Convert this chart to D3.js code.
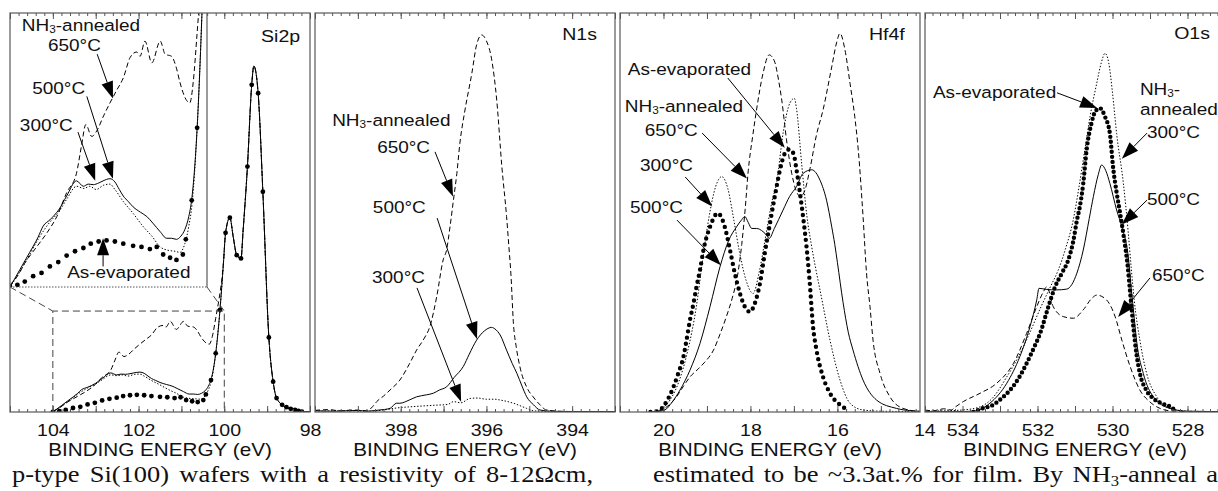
<!DOCTYPE html>
<html>
<head>
<meta charset="utf-8">
<script src="https://cdn.jsdelivr.net/npm/d3@7"></script>
<style>
  body { margin: 0; background: #fff; }
  svg { display: block; }
  text { font-family: "Liberation Sans", Arial, sans-serif; fill: #111; }
  .cap { font-family: "Liberation Serif", "Times New Roman", serif; }
</style>
</head>
<body>
<svg id="chart" width="1218" height="491"></svg>
<script>
// ---------- spectra: [binding energy (eV), intensity (a.u., 0-100 full scale)] ----------

// Si2p: substrate peak shared by all films
const siSubstrate = [[100.02,37.3],[99.97,44.9],[99.87,48.7],[99.79,43.8],[99.71,39.3],[99.61,38.5],[99.56,45.6],[99.46,61.5],[99.36,82.0],[99.31,86.7],[99.21,79.9],[99.10,55.2],[98.96,18.7],[98.86,7.6],[98.78,3.5],[98.58,1.3],[98.35,0.5],[98.19,0.1],[98.0,0.1]];
const si650 = [[104.0,0.2],[103.85,1.0],[103.7,2.2],[103.46,3.7],[103.25,5.0],[103.05,6.5],[102.85,8.7],[102.65,10.5],[102.55,13.0],[102.46,15.0],[102.34,13.9],[102.24,14.4],[102.1,15.8],[101.97,17.0],[101.83,18.2],[101.7,19.3],[101.56,21.2],[101.43,21.7],[101.36,21.3],[101.26,22.7],[101.12,20.7],[100.95,22.7],[100.85,21.5],[100.72,21.3],[100.62,20.2],[100.55,18.9],[100.41,17.2],[100.35,17.0],[100.28,18.9],[100.2,23.5],[100.12,28.5],[100.06,33.0]];
const si500 = [[104.0,0.0],[103.8,1.6],[103.6,3.2],[103.43,4.6],[103.33,5.6],[103.19,6.2],[103.0,7.2],[102.85,8.4],[102.65,9.8],[102.51,9.3],[102.41,9.5],[102.31,9.45],[102.2,9.6],[102.11,9.8],[101.97,10.0],[101.87,9.7],[101.78,9.0],[101.7,8.4],[101.6,7.9],[101.5,7.4],[101.35,6.9],[101.22,6.5],[101.1,5.9],[100.95,5.1],[100.82,4.5],[100.72,4.5],[100.62,4.4],[100.53,4.7],[100.45,5.3],[100.37,6.5],[100.31,8.1],[100.2,14.7],[100.1,25.6]];
const si300 = [[104.0,0.0],[103.8,1.4],[103.6,3.0],[103.43,4.4],[103.19,6.0],[103.0,7.0],[102.85,8.1],[102.65,9.3],[102.5,9.1],[102.38,9.3],[102.25,9.0],[102.1,9.4],[101.97,9.5],[101.87,9.0],[101.7,7.9],[101.5,6.8],[101.3,5.6],[101.12,4.7],[100.95,3.7],[100.8,3.4],[100.65,3.3],[100.55,3.2],[100.45,4.0],[100.37,5.6],[100.3,7.8],[100.2,14.7],[100.1,25.6]];
const siAsEvap = [[104.0,0.0],[103.85,0.2],[103.7,0.5],[103.53,1.0],[103.36,1.3],[103.19,1.9],[103.02,2.3],[102.85,2.9],[102.68,3.3],[102.51,3.6],[102.36,4.0],[102.2,4.2],[102.04,4.3],[101.87,4.2],[101.7,4.0],[101.5,3.8],[101.33,3.7],[101.16,3.5],[101.02,3.7],[100.89,3.0],[100.75,2.7],[100.62,2.5],[100.49,3.0],[100.43,4.4],[100.31,8.0],[100.2,14.7],[100.1,25.6],[99.97,44.9],[99.87,48.7],[99.71,39.3],[99.61,38.5],[99.46,61.5],[99.36,82.0],[99.21,79.9],[99.10,55.2],[98.96,18.7],[98.86,7.6],[98.78,3.5],[98.65,1.8],[98.55,1.2],[98.45,0.8],[98.35,0.5],[98.27,0.3],[98.19,0.1]];

// N1s
const n650 = [[400.0,0.4],[399.7,0.6],[399.4,0.3],[399.1,0.5],[398.79,0.3],[398.65,1.4],[398.56,2.6],[398.4,4.0],[398.25,5.5],[398.02,8.0],[397.8,12.0],[397.63,15.5],[397.45,18.5],[397.32,21.4],[397.16,28.9],[397.01,38.1],[396.93,40.6],[396.85,46.4],[396.77,53.1],[396.69,59.8],[396.62,67.3],[396.5,75.7],[396.34,84.9],[396.23,92.0],[396.11,94.5],[396.0,93.0],[395.88,88.5],[395.76,78.2],[395.64,61.5],[395.53,49.0],[395.47,40.6],[395.43,34.8],[395.37,22.2],[395.3,16.0],[395.22,11.4],[395.05,6.0],[394.91,3.8],[394.75,1.8],[394.6,0.5],[394.3,0.2],[393.8,0.1],[393.0,0.1]];
const n500 = [[400.0,0.3],[399.5,0.2],[399.0,0.4],[398.79,0.2],[398.5,0.5],[398.25,0.9],[398.1,2.2],[398.02,2.2],[397.8,3.0],[397.63,3.8],[397.4,4.3],[397.24,4.7],[397.1,5.5],[396.93,6.3],[396.75,8.7],[396.54,11.4],[396.4,14.5],[396.23,18.0],[396.05,20.3],[395.88,21.2],[395.8,20.8],[395.68,19.3],[395.53,15.5],[395.4,12.2],[395.29,9.7],[395.17,6.5],[395.06,3.8],[394.9,1.8],[394.75,0.5],[394.5,0.2],[394.0,0.1],[393.0,0.1]];
const n300 = [[400.0,0.2],[399.2,0.3],[398.8,0.2],[398.4,0.5],[398.1,1.0],[397.78,1.3],[397.5,1.5],[397.2,1.7],[396.9,1.9],[396.77,2.6],[396.6,2.3],[396.38,3.4],[396.2,3.5],[396.0,3.2],[395.8,3.2],[395.68,3.0],[395.37,2.2],[395.06,0.9],[394.9,0.3],[394.5,0.1],[393.0,0.1]];

// Hf4f
const h650 = [[20.3,0.0],[20.1,0.3],[19.9,1.5],[19.7,3.8],[19.55,6.3],[19.39,8.8],[19.2,10.8],[19.05,12.5],[18.85,15.5],[18.7,19.5],[18.55,24.0],[18.42,28.5],[18.3,34.0],[18.2,42.0],[18.12,51.0],[18.05,60.5],[17.95,69.0],[17.86,75.7],[17.71,84.9],[17.57,89.5],[17.45,88.0],[17.35,83.0],[17.28,78.2],[17.17,68.2],[17.05,59.8],[16.95,55.5],[16.85,54.0],[16.75,55.5],[16.63,61.0],[16.48,69.5],[16.33,75.7],[16.13,86.5],[16.02,92.5],[15.94,94.9],[15.83,91.0],[15.71,82.4],[15.6,74.0],[15.52,65.7],[15.41,49.0],[15.33,34.8],[15.25,26.4],[15.18,18.0],[15.02,9.7],[14.79,3.8],[14.49,0.9],[14.1,0.1]];
const h500 = [[20.2,0.0],[19.97,0.5],[19.8,2.5],[19.62,5.5],[19.39,10.5],[19.16,17.2],[18.93,26.4],[18.7,36.4],[18.5,43.0],[18.32,46.4],[18.2,48.2],[18.13,49.0],[18.05,47.5],[17.97,46.0],[17.86,46.0],[17.71,45.2],[17.62,44.2],[17.57,43.5],[17.45,46.0],[17.25,50.6],[17.1,54.0],[16.94,56.5],[16.79,59.8],[16.59,60.7],[16.4,58.1],[16.25,53.1],[16.13,46.4],[16.06,42.0],[16.0,37.5],[15.87,27.5],[15.75,20.0],[15.64,15.5],[15.41,8.0],[15.1,3.0],[14.64,0.9],[14.3,0.3],[14.1,0.2]];
const h300 = [[20.3,0.0],[20.05,0.8],[19.85,3.0],[19.65,7.5],[19.45,15.0],[19.25,26.0],[19.1,38.0],[18.95,49.0],[18.8,56.5],[18.66,59.0],[18.52,56.0],[18.38,48.0],[18.25,40.0],[18.1,33.0],[17.94,29.7],[17.8,35.0],[17.65,44.0],[17.5,53.0],[17.4,57.3],[17.25,69.8],[17.09,77.5],[16.99,78.6],[16.94,76.0],[16.82,62.0],[16.7,49.0],[16.6,42.0],[16.5,36.0],[16.4,30.6],[16.17,18.0],[15.94,8.0],[15.71,2.2],[15.41,0.5],[15.0,0.2],[14.1,0.1]];
const hAsEvap = [[20.3,0.0],[20.16,0.1],[20.08,0.5],[19.89,3.4],[19.77,6.3],[19.66,9.7],[19.54,13.9],[19.47,18.0],[19.39,23.1],[19.31,27.2],[19.24,31.4],[19.16,35.6],[19.08,40.6],[18.93,46.4],[18.75,49.8],[18.59,46.4],[18.47,40.6],[18.36,34.8],[18.24,29.7],[18.13,26.4],[18.01,25.1],[17.9,27.2],[17.78,32.3],[17.67,39.8],[17.55,47.3],[17.44,54.0],[17.32,60.7],[17.21,64.8],[17.11,65.8],[17.01,64.8],[16.94,60.7],[16.86,54.8],[16.79,49.0],[16.71,41.4],[16.64,33.0],[16.56,21.4],[16.48,15.5],[16.33,8.8],[16.17,4.7],[15.94,1.8],[15.75,0.5]];

// O1s
const o650 = [[535.0,0.5],[534.8,0.3],[534.5,0.8],[534.3,0.5],[534.2,1.2],[533.98,2.6],[533.53,4.7],[533.09,7.2],[532.64,12.2],[532.29,19.7],[532.02,26.4],[531.85,30.0],[531.75,31.4],[531.58,26.4],[531.31,23.9],[531.04,23.5],[530.78,25.6],[530.55,28.5],[530.42,29.3],[530.16,28.1],[529.93,23.9],[529.75,18.0],[529.53,11.4],[529.27,5.5],[529.0,2.5],[528.82,1.3],[528.47,0.3],[528.0,0.1],[527.0,0.1]];
const o500 = [[535.0,0.1],[534.2,0.1],[533.71,0.2],[533.27,2.2],[532.82,7.2],[532.47,13.9],[532.2,21.4],[532.02,28.1],[531.96,31.0],[531.75,30.7],[531.49,30.6],[531.22,30.8],[530.95,34.8],[530.78,40.6],[530.62,48.5],[530.51,54.0],[530.38,59.5],[530.29,61.9],[530.18,60.5],[530.07,57.3],[529.89,50.6],[529.75,46.4],[529.58,38.9],[529.5,31.0],[529.42,23.5],[529.36,18.0],[529.18,9.7],[528.91,3.8],[528.47,0.9],[528.0,0.2],[527.0,0.1]];
const o300 = [[535.0,0.2],[534.5,0.3],[534.0,0.5],[533.53,1.3],[533.2,3.5],[532.82,8.8],[532.5,14.0],[532.2,20.0],[531.9,26.5],[531.65,31.5],[531.45,35.5],[531.25,41.0],[531.05,48.0],[530.9,56.0],[530.75,65.0],[530.6,74.0],[530.42,82.4],[530.3,87.5],[530.2,89.9],[530.1,87.5],[530.0,80.0],[529.89,69.8],[529.71,57.3],[529.58,45.0],[529.5,36.0],[529.42,28.0],[529.27,18.0],[529.09,9.7],[528.82,3.8],[528.47,0.9],[528.0,0.2],[527.0,0.1]];
const oAsEvap = [[533.71,0.0],[533.5,0.8],[533.18,1.8],[532.95,3.5],[532.73,5.5],[532.5,8.5],[532.29,12.2],[532.1,16.0],[531.93,19.7],[531.71,26.4],[531.53,31.4],[531.35,34.8],[531.18,38.1],[531.04,43.1],[530.95,48.0],[530.87,51.5],[530.78,57.3],[530.69,65.7],[530.56,72.4],[530.45,75.5],[530.33,76.1],[530.2,74.0],[530.07,69.8],[529.98,61.0],[529.89,55.0],[529.8,50.0],[529.7,44.0],[529.6,37.0],[529.53,30.0],[529.44,21.0],[529.36,14.5],[529.27,9.7],[529.1,5.5],[528.9,3.3],[528.64,2.0],[528.4,1.0],[528.3,0.0]];

// tick labels per panel
const siTicks = [104, 102, 100, 98];
const nTicks = [398, 396, 394];
const hfTicks = [20, 18, 16, 14];
const oTicks = [534, 532, 530, 528];
const axisTitle = "BINDING ENERGY (eV)";

// ---------- layout ----------
const svg = d3.select("#chart");
const TOP = 13, BOT = 412, PW = 300;
const SX = 1.15;               // lettering is set slightly wide
const yMain = d3.scaleLinear().domain([0, 100]).range([BOT, TOP]);

const panels = [
  { title: "Si2p", left: 10,  dom: [105, 98],   ticks: siTicks, titleAt: [98.23, 92.7],
    series: [
      { d: si650.concat(siSubstrate), st: "dashed" },
      { d: si300.concat(siSubstrate), st: "dotted" },
      { d: si500.concat(siSubstrate), st: "solid" },
      { d: siAsEvap, st: "markers" } ] },
  { title: "N1s",  left: 315, dom: [400, 393],  ticks: nTicks, titleAt: [393.42, 93.2],
    series: [ { d: n650, st: "dashed" }, { d: n300, st: "dotted" }, { d: n500, st: "solid" } ] },
  { title: "Hf4f", left: 620, dom: [21, 14.1],  ticks: hfTicks, titleAt: [14.45, 93.2],
    series: [ { d: h650, st: "dashed" }, { d: h300, st: "dotted" }, { d: h500, st: "solid" }, { d: hAsEvap, st: "beads", gap: 6.3 } ] },
  { title: "O1s",  left: 925, dom: [535, 527],  ticks: oTicks, titleAt: [527.4, 93.5],
    series: [ { d: o650, st: "dashed" }, { d: o300, st: "dotted" }, { d: o500, st: "solid" }, { d: oAsEvap, st: "beads", gap: 5.0 } ] }
];

// annotation text and arrows, in data units of each panel ("inset" = Si2p magnified box)
const notes = [
  { p: 0, sc: "inset", text: "NH_3-annealed", at: [103.76, 23.6] },
  { p: 0, sc: "inset", text: "650°C", at: [103.23, 21.8], from: [102.23, 21.5], to: [101.91, 17.4] },
  { p: 0, sc: "inset", text: "500°C", at: [103.55, 17.8], from: [102.44, 17.6], to: [101.91, 10.0] },
  { p: 0, sc: "inset", text: "300°C", at: [103.80, 14.4], from: [102.62, 14.3], to: [102.27, 9.8] },
  { p: 0, sc: "inset", text: "As-evaporated", at: [102.84, 0.85], from: [102.11, 1.9], to: [102.11, 4.5] },
  { p: 1, text: "NH_3-annealed", at: [399.6, 71.7] },
  { p: 1, text: "650°C", at: [398.55, 64.9], from: [397.2, 65.2], to: [396.78, 54.0] },
  { p: 1, text: "500°C", at: [398.65, 49.9], from: [397.15, 48.6], to: [396.22, 18.3] },
  { p: 1, text: "300°C", at: [398.67, 32.3], from: [397.62, 31.1], to: [396.59, 2.6] },
  { p: 2, text: "As-evaporated", at: [20.82, 84.5], from: [18.52, 83.7], to: [17.21, 66.2] },
  { p: 2, text: "NH_3-annealed", at: [20.89, 75.2] },
  { p: 2, text: "650°C", at: [20.43, 69.2], from: [19.11, 69.9], to: [18.08, 58.5] },
  { p: 2, text: "300°C", at: [20.54, 60.4], from: [19.5, 58.9], to: [18.88, 51.5] },
  { p: 2, text: "500°C", at: [20.77, 49.9], from: [19.69, 48.1], to: [18.68, 36.8] },
  { p: 3, text: "As-evaporated", at: [534.79, 78.7], from: [531.48, 80.0], to: [530.41, 76.2] },
  { p: 3, text: "NH_3-", at: [529.27, 79.4] },
  { p: 3, text: "annealed", at: [529.27, 74.4] },
  { p: 3, text: "300°C", at: [529.08, 68.7], from: [529.08, 69.9], to: [529.75, 63.5] },
  { p: 3, text: "500°C", at: [529.08, 51.9], from: [529.08, 53.1], to: [529.75, 47.0] },
  { p: 3, text: "650°C", at: [528.95, 32.8], from: [529.0, 33.6], to: [529.85, 23.8] }
];

const styles = {
  solid:  { w: 1.0, dash: null },
  dotted: { w: 1.0, dash: "1.4 1.8" },
  dashed: { w: 1.0, dash: "5 3" }
};

function addLabel(g, str, x, y, size, anchor) {
  const t = g.append("text").attr("transform", `translate(${x},${y}) scale(${SX},1)`)
    .attr("font-size", size).attr("text-anchor", anchor || "start");
  str.split("_3").forEach((part, i) => {
    if (i > 0) t.append("tspan").attr("font-size", size * 0.62).attr("dy", 2).text("3");
    if (part) { const s = t.append("tspan").text(part); if (i > 0) s.attr("dy", -2); }
  });
  return t;
}

function drawSeries(g, s, x, y) {
  const line = d3.line().x(d => x(d[0])).y(d => y(d[1])).curve(d3.curveMonotoneX);
  if (s.st === "markers") {
    g.append("g").selectAll("circle").data(s.d).join("circle")
      .attr("cx", d => x(d[0])).attr("cy", d => y(d[1])).attr("r", 2.4).attr("fill", "#000");
  } else if (s.st === "beads") {
    g.append("path").attr("d", line(s.d)).attr("fill", "none").attr("stroke", "#000")
      .attr("stroke-width", 4.4).attr("stroke-linecap", "round")
      .attr("stroke-dasharray", `0 ${s.gap}`);
  } else {
    const st = styles[s.st];
    g.append("path").attr("d", line(s.d)).attr("fill", "none").attr("stroke", "#000")
      .attr("stroke-width", st.w).attr("stroke-dasharray", st.dash);
  }
}

function drawArrow(g, x0, y0, x1, y1) {
  const L = 17, HW = 6;
  const dx = x1 - x0, dy = y1 - y0, len = Math.hypot(dx, dy);
  const ux = dx / len, uy = dy / len;
  const bx = x1 - ux * L, by = y1 - uy * L;
  g.append("line").attr("x1", x0).attr("y1", y0).attr("x2", bx).attr("y2", by)
    .attr("stroke", "#000").attr("stroke-width", 1);
  g.append("path")
    .attr("d", `M${x1},${y1}L${bx - uy * HW},${by + ux * HW}L${bx + uy * HW},${by - ux * HW}Z`)
    .attr("fill", "#000");
}

const defs = svg.append("defs");
const scalesByPanel = [];

panels.forEach((p, i) => {
  const x = d3.scaleLinear().domain(p.dom).range([p.left, p.left + PW]);
  const g = svg.append("g");
  const clipId = "clip" + i;
  defs.append("clipPath").attr("id", clipId).append("rect")
    .attr("x", p.left).attr("y", TOP).attr("width", PW).attr("height", BOT - TOP);
  const plot = g.append("g").attr("clip-path", `url(#${clipId})`);
  p.series.forEach(s => drawSeries(plot, s, x, yMain));

  const sc = { main: { x, y: yMain } };

  // magnified view of the 104-100 eV overlayer region
  if (i === 0) {
    const boxTop = 25.3;
    const ix = d3.scaleLinear().domain([104, 100]).range([p.left, 207]);
    const iy = d3.scaleLinear().domain([0, boxTop]).range([287, TOP]);
    sc.inset = { x: ix, y: iy };
    defs.append("clipPath").attr("id", "clipInset").append("rect")
      .attr("x", p.left).attr("y", TOP).attr("width", 207 - p.left).attr("height", 287 - TOP);
    g.append("rect").attr("x", p.left).attr("y", TOP).attr("width", 207 - p.left)
      .attr("height", 287 - TOP).attr("fill", "#fff");
    const ig = g.append("g").attr("clip-path", "url(#clipInset)");
    p.series.forEach(s => drawSeries(ig, s, ix, iy));
    g.append("line").attr("x1", 207).attr("x2", 207).attr("y1", TOP).attr("y2", 287)
      .attr("stroke", "#666").attr("stroke-width", 1.3);
    g.append("line").attr("x1", p.left).attr("x2", 207).attr("y1", 287).attr("y2", 287)
      .attr("stroke", "#555").attr("stroke-width", 1.2).attr("stroke-dasharray", "1.5 1.5");
    // zoom box and connectors
    const zx0 = x(104), zx1 = x(100), zy = yMain(boxTop);
    g.append("path").attr("d", `M${zx0},${BOT}V${zy}H${zx1}V${BOT}`)
      .attr("fill", "none").attr("stroke", "#444").attr("stroke-width", 1).attr("stroke-dasharray", "7 4");
    g.append("path").attr("d", `M${p.left},287L${zx0},${zy}M207,287L${zx1},${zy}`)
      .attr("fill", "none").attr("stroke", "#444").attr("stroke-width", 1).attr("stroke-dasharray", "7 4");
  }
  scalesByPanel.push(sc);

  // frame
  g.append("rect").attr("x", p.left).attr("y", TOP).attr("width", PW).attr("height", BOT - TOP)
    .attr("fill", "none").attr("stroke", "#666").attr("stroke-width", 1.3);

  // minor/major ticks on top and bottom edges, pointing inward
  const lo = Math.min(...p.dom), hi = Math.max(...p.dom);
  const minor = d3.range(Math.ceil(lo * 5 - 1e-6), Math.floor(hi * 5 + 1e-6) + 1).map(v => v / 5);
  const major = d3.range(Math.ceil(lo - 1e-6), Math.floor(hi + 1e-6) + 1);
  [[minor, 3], [major, 6]].forEach(([vals, len]) => {
    g.append("g").attr("transform", `translate(0,${TOP})`)
      .call(d3.axisBottom(x).tickValues(vals).tickSize(len).tickFormat(""))
      .call(a => a.select(".domain").remove())
      .call(a => a.selectAll("line").attr("stroke", "#555"));
    g.append("g").attr("transform", `translate(0,${BOT})`)
      .call(d3.axisTop(x).tickValues(vals).tickSize(len).tickFormat(""))
      .call(a => a.select(".domain").remove())
      .call(a => a.selectAll("line").attr("stroke", "#555"));
  });
  const lab = g.append("g").attr("transform", `translate(0,${BOT})`)
    .call(d3.axisBottom(x).tickValues(p.ticks).tickSize(0).tickPadding(12.4).tickFormat(d3.format("d")))
    .call(a => a.select(".domain").remove());
  lab.attr("font-family", null).attr("font-size", null);
  lab.selectAll("text").attr("font-size", 17).attr("fill", "#111")
    .attr("transform", `scale(${SX},1)`);

  addLabel(g, axisTitle, p.left + PW / 2, 456, 18, "middle");
  addLabel(g, p.title, x(p.titleAt[0]), yMain(p.titleAt[1]), 17, "end");
});

// annotations
const ann = svg.append("g");
notes.forEach(n => {
  const s = scalesByPanel[n.p][n.sc || "main"];
  addLabel(ann, n.text, s.x(n.at[0]), s.y(n.at[1]), 16.5);
  if (n.from) drawArrow(ann, s.x(n.from[0]), s.y(n.from[1]), s.x(n.to[0]), s.y(n.to[1]));
});

// running text of the page below the figure (justified lines)
function justified(x, y, width, build) {
  const t = svg.append("text").attr("class", "cap").attr("font-size", 23)
    .attr("transform", `translate(${x},${y}) scale(${SX},1)`);
  build(t);
  const natural = t.node().getComputedTextLength();
  const spaces = (t.text().match(/ /g) || []).length;
  t.attr("word-spacing", (width / SX - natural) / spaces);
}
justified(12, 482, 581, t => t.text("p-type Si(100) wafers with a resistivity of 8-12Ωcm,"));
justified(653, 482, 565, t => {
  t.append("tspan").text("estimated to be ~3.3at.% for film. By NH");
  t.append("tspan").attr("font-size", 14.5).attr("dy", 4).text("3");
  t.append("tspan").attr("dy", -4).text("-anneal a");
});
</script>
</body>
</html>
